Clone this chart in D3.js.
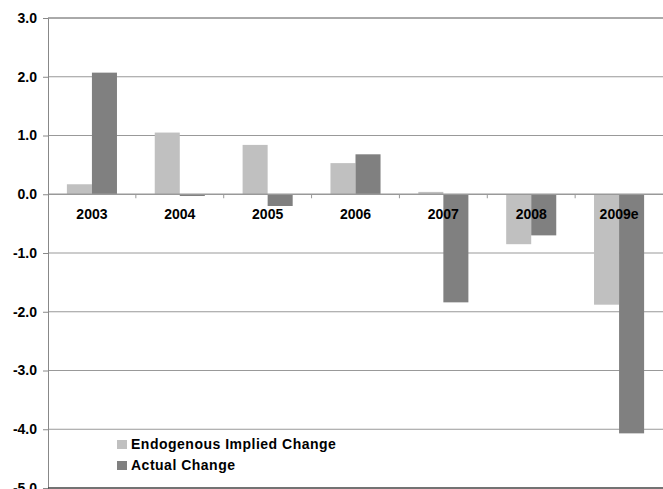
<!DOCTYPE html>
<html>
<head>
<meta charset="utf-8">
<script src="https://cdn.jsdelivr.net/npm/d3@7"></script>
<style>
  html, body { margin: 0; padding: 0; background: #fff; }
  svg { display: block; font-family: "Liberation Sans", Arial, sans-serif; }
</style>
</head>
<body>
<svg id="chart" width="663" height="489"></svg>
<script>
// Years and the two series of changes (percentage points)
const years = ["2003", "2004", "2005", "2006", "2007", "2008", "2009e"];
const endogenous = [0.17, 1.05, 0.84, 0.53, 0.04, -0.85, -1.88];
const actual = [2.07, -0.03, -0.20, 0.68, -1.84, -0.70, -4.07];
const seriesNames = ["Endogenous Implied Change", "Actual Change"];
const seriesColors = ["#c0c0c0", "#808080"];
const yTicks = [3, 2, 1, 0, -1, -2, -3, -4, -5];

const svg = d3.select("#chart");
const margin = { left: 48, right: 0, top: 18, bottom: 1 };
const W = 663, H = 489;

const x = d3.scaleBand().domain(years).range([margin.left, W - margin.right]).paddingInner(0.43).paddingOuter(0.215);
const xOuter = d3.scaleBand().domain(years).range([margin.left, W - margin.right]);
const sub = d3.scaleBand().domain([0, 1]).range([0, x.bandwidth()]);
const y = d3.scaleLinear().domain([-5, 3]).range([H - margin.bottom, margin.top]);

// horizontal gridlines
svg.append("g").selectAll("line").data(yTicks.filter(d => d !== 0 && d !== -5)).join("line")
  .attr("x1", margin.left).attr("x2", W)
  .attr("y1", d => y(d)).attr("y2", d => y(d))
  .attr("stroke", d => d === 3 ? "#555" : "#999").attr("stroke-width", 1);

// bars
const rows = years.map((yr, i) => [endogenous[i], actual[i]]);
const groups = svg.append("g").selectAll("g").data(rows).join("g")
  .attr("transform", (d, i) => `translate(${x(years[i])},0)`);
groups.selectAll("rect").data(d => d.map((v, k) => ({ v, k }))).join("rect")
  .attr("x", d => sub(d.k))
  .attr("width", sub.bandwidth())
  .attr("y", d => Math.min(y(d.v), y(0)))
  .attr("height", d => Math.abs(y(d.v) - y(0)))
  .attr("fill", d => seriesColors[d.k]);

// zero axis with category ticks
svg.append("line").attr("x1", margin.left).attr("x2", W)
  .attr("y1", y(0)).attr("y2", y(0)).attr("stroke", "#999").attr("stroke-width", 1.5);
svg.append("g").selectAll("line").data(years.slice(1)).join("line")
  .attr("x1", d => xOuter(d)).attr("x2", d => xOuter(d))
  .attr("y1", y(0)).attr("y2", y(0) + 4).attr("stroke", "#999");

// category labels
svg.append("g").selectAll("text").data(years).join("text")
  .attr("x", d => xOuter(d) + xOuter.bandwidth() / 2)
  .attr("y", y(0) + 25)
  .attr("text-anchor", "middle")
  .attr("font-size", 14).attr("font-weight", "bold").attr("fill", "#000")
  .text(d => d);

// left axis (plain hyphen for negatives)
const fmt = d3.format(".1f");
const yAxis = d3.axisLeft(y).tickValues(yTicks)
  .tickFormat(d => fmt(d).replace("\u2212", "-")).tickSize(5).tickPadding(6);
const ga = svg.append("g").attr("transform", `translate(${margin.left},0)`).call(yAxis);
ga.select(".domain").attr("stroke", "#888");
ga.selectAll(".tick line").attr("stroke", "#888");
ga.selectAll("text").attr("font-size", 14).attr("font-weight", "bold").attr("fill", "#000")
  .attr("font-family", "Liberation Sans, Arial, sans-serif");

// bottom border
svg.append("line").attr("x1", margin.left).attr("x2", W)
  .attr("y1", y(-5)).attr("y2", y(-5)).attr("stroke", "#444").attr("stroke-width", 1.5);

// legend
const lg = svg.append("g").attr("transform", "translate(117,449)");
seriesNames.forEach((name, i) => {
  const row = lg.append("g").attr("transform", `translate(0,${i * 21})`);
  row.append("rect").attr("x", 0).attr("y", -9).attr("width", 10).attr("height", 9).attr("fill", seriesColors[i]);
  row.append("text").attr("x", 14).attr("y", 0)
    .attr("font-size", 14).attr("font-weight", "bold").attr("letter-spacing", 0.5)
    .attr("fill", "#000").text(name);
});
</script>
</body>
</html>
